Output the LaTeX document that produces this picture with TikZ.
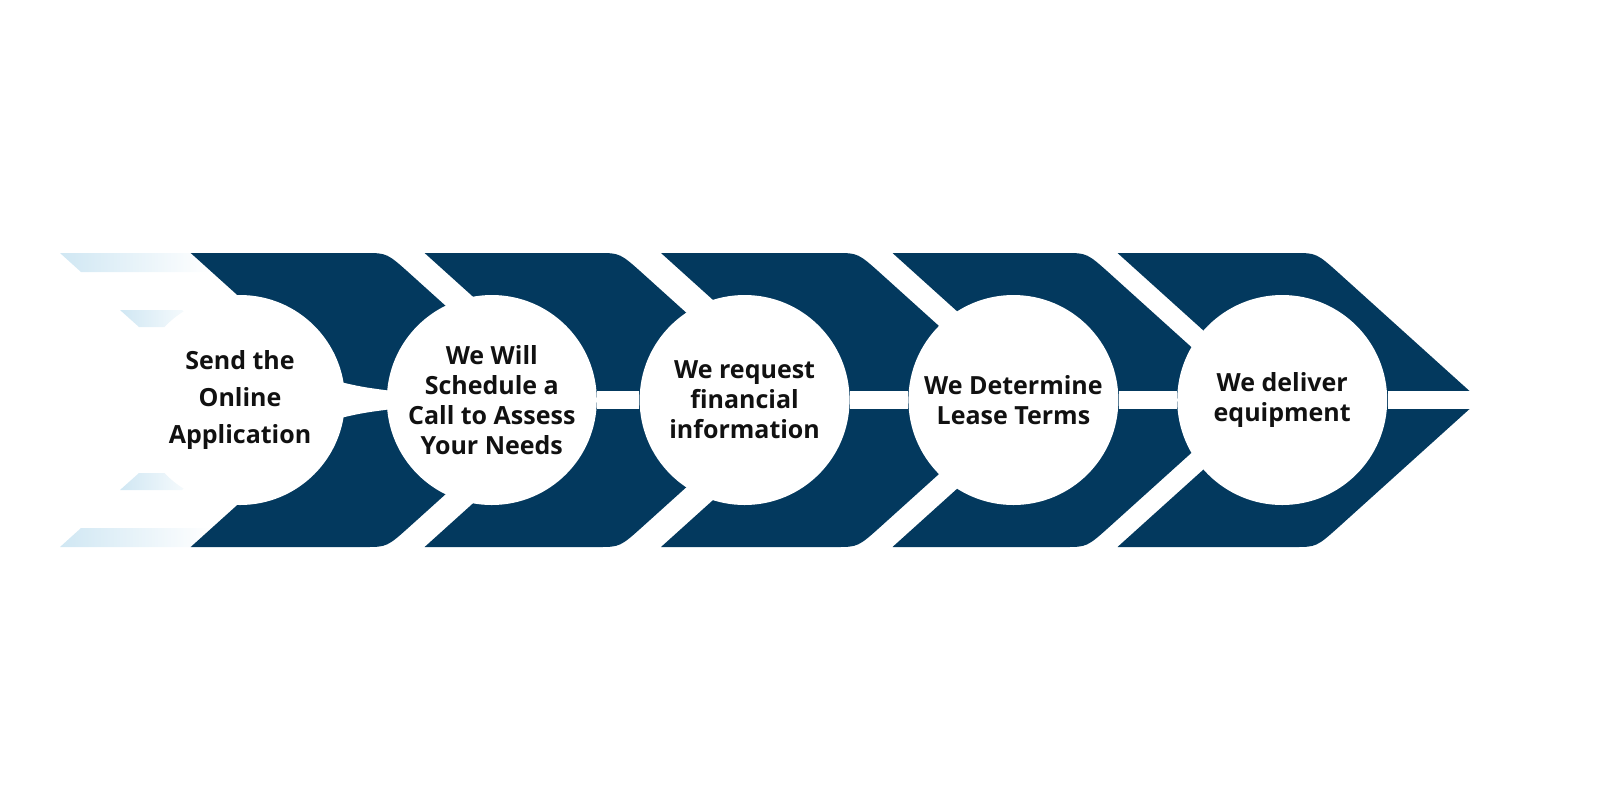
\documentclass[tikz,border=0pt]{standalone}
\usepackage{fontspec}
\setsansfont{Open Sans}
\usepackage{tikz}
\usetikzlibrary{positioning,shapes}
\definecolor{Navy}{RGB}{3,57,94}
\definecolor{StreakBlue}{RGB}{208,231,243}
\definecolor{NearBlack}{RGB}{17,17,17}
\tikzstyle{every picture}+=[font=\sffamily]
\tikzset{%
  stage/.style={%
    shape=circle, fill=white, minimum size=105pt, inner sep=0pt,
    text=NearBlack, align=center,
    font=\sffamily\bfseries\fontsize{12.5}{15}\selectfont
  },
  chevron/.style={fill=Navy},
  gap/.style={draw=white, line width=9pt},
  streak/.style={left color=StreakBlue, right color=white},
}
% #1 = left x of the band piece, #2 = x of its upper right corner
\newcommand{\chevronshape}[2]{%
  \fill[chevron] (#1,253) -- ({#2-22},253) .. controls (#2,253) .. ({#2+24},274.6)
    -- ({#2+163},400) -- ({#2+24},525.4) .. controls (#2,547) .. ({#2-22},547)
    -- (#1,547) -- ({#1+163},400) -- cycle;}

\begin{document}
\begin{tikzpicture}[x=0.5pt, y=-0.5pt]
    \useasboundingbox (0,0) rectangle (1600,800);

    % faded streaks left of the first piece
    \shade[streak] (60,253) -- (190,253) -- (211,272) -- (81,272) -- cycle;
    \shade[streak] (120,310) -- (182,310) -- (201,327) -- (139,327) -- cycle;
    \shade[streak] (139,473) -- (201,473) -- (182,490) -- (120,490) -- cycle;
    \shade[streak] (81,528) -- (211,528) -- (190,547) -- (60,547) -- cycle;

    \chevronshape{190.7}{387}
    \chevronshape{424.6}{620}
    \chevronshape{661}{858}
    \chevronshape{892.5}{1087}
    \chevronshape{1117.5}{1316.5}

    % widening of the first gap
    \fill[white] (336,381) .. controls (362,387) .. (392,391) -- (392,409)
        .. controls (362,413) .. (336,419) -- cycle;

    \node (SEND)[stage, font=\sffamily\bfseries\fontsize{12.5}{18.5}\selectfont]
        at (240,400) {Send the\\Online\\Application};
    \node (SCHEDULE)[stage, right=20.5pt of SEND]
        {We Will\\Schedule a\\Call to Assess\\Your Needs};
    \node (REQUEST)[stage, right=21pt of SCHEDULE]
        {We request\\financial\\information};
    \node (DETERMINE)[stage, right=29pt of REQUEST]
        {We Determine\\Lease Terms};
    \node (DELIVER)[stage, right=29pt of DETERMINE]
        {We deliver\\equipment};
    \coordinate (TIP) at (1484,400);

    \path[gap]
        (SEND) edge (SCHEDULE)
        (SCHEDULE) edge (REQUEST)
        (REQUEST) edge (DETERMINE)
        (DETERMINE) edge (DELIVER)
        (DELIVER) edge (TIP)
    ;
\end{tikzpicture}
\end{document}
